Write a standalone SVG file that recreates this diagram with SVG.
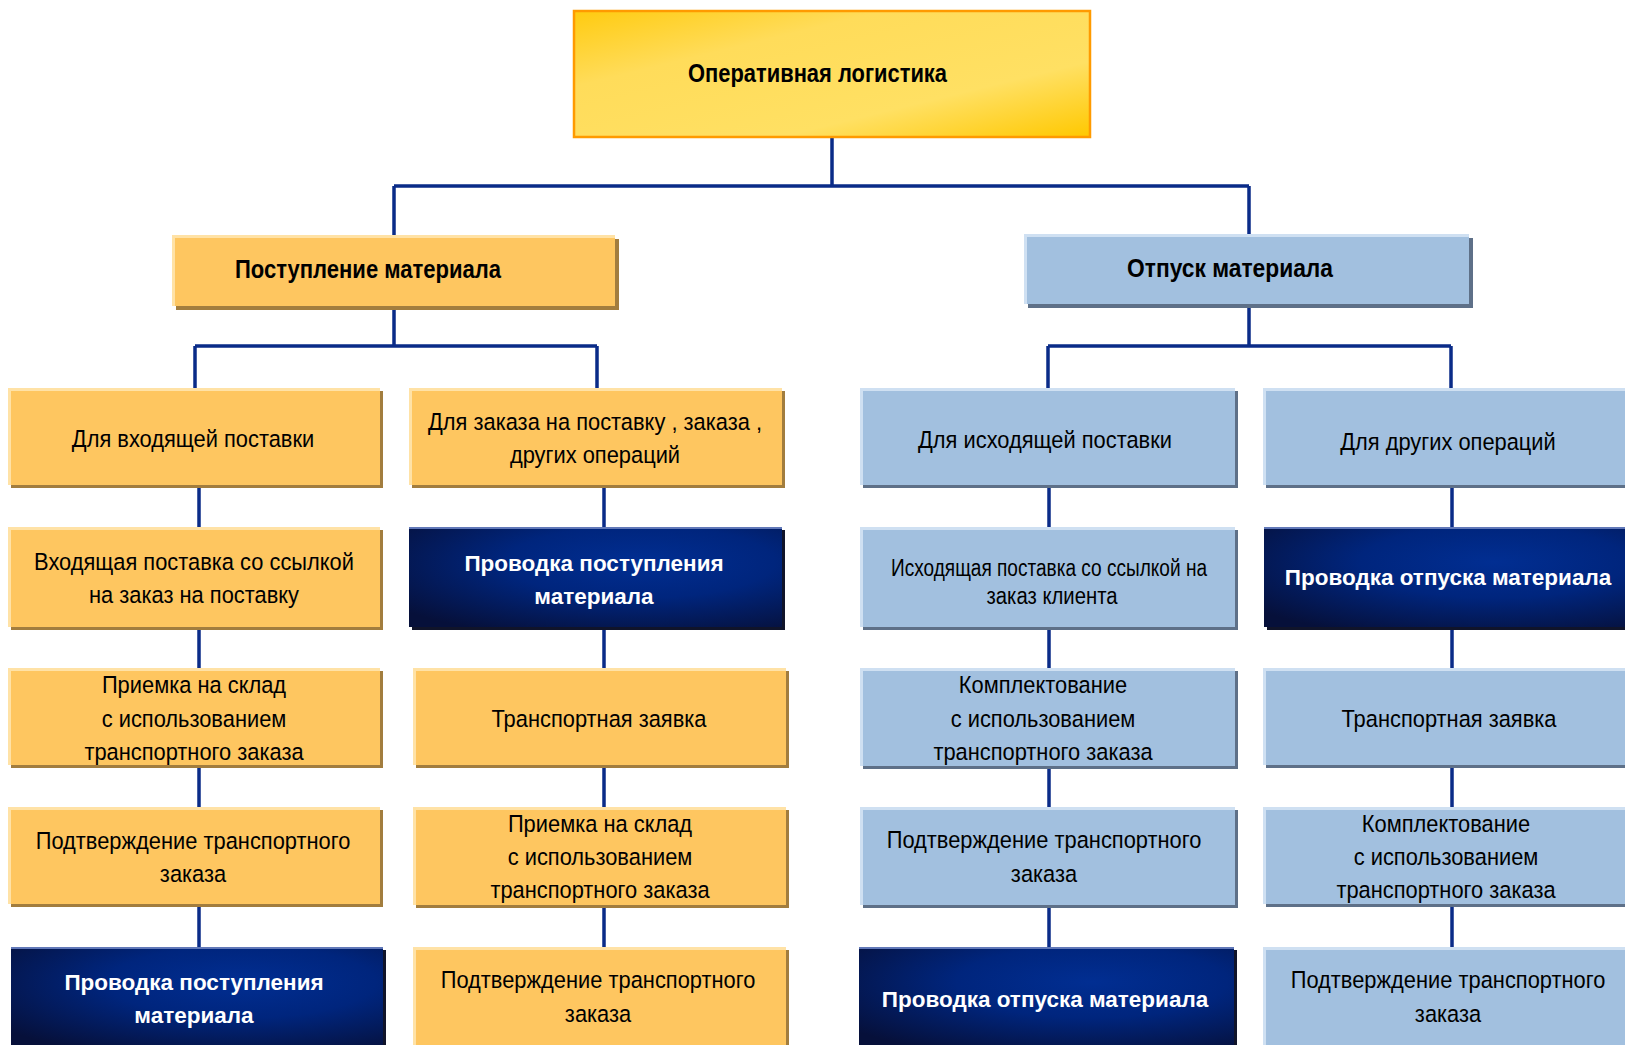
<svg xmlns="http://www.w3.org/2000/svg" width="1625" height="1045" viewBox="0 0 1625 1045">
<defs>
<linearGradient id="yg" x1="0" y1="0" x2="1" y2="1">
<stop offset="0" stop-color="#FFCB10"/>
<stop offset="0.3" stop-color="#FFDC5A"/>
<stop offset="0.7" stop-color="#FFE063"/>
<stop offset="1" stop-color="#FFC800"/>
</linearGradient>
<radialGradient id="dg" cx="0.62" cy="0.35" r="0.8">
<stop offset="0" stop-color="#012E92"/>
<stop offset="0.45" stop-color="#00257D"/>
<stop offset="1" stop-color="#06103A"/>
</radialGradient>
</defs>
<style>
.o{fill:#FEC660}
.os{fill:#A27D3E}
.oh{stroke:#FFE2A6;stroke-width:3}
.b{fill:#A2C0DF}
.bs{fill:#5E7088}
.bh{stroke:#CFE0F2;stroke-width:3}
.d{fill:url(#dg)}
.ds{fill:#10142A}
.dh{stroke:#6178B8;stroke-width:2}
.t{font-family:"Liberation Sans",Arial,sans-serif;font-size:23.5px;fill:#000;text-anchor:middle}
.tw{font-family:"Liberation Sans",Arial,sans-serif;font-size:22.5px;fill:#fff;font-weight:bold;text-anchor:middle}
.h{font-family:"Liberation Sans",Arial,sans-serif;font-size:25px;fill:#000;font-weight:bold}
.c{stroke:#0A2B88;stroke-width:3.5;fill:none}
</style>
<rect width="1625" height="1045" fill="#fff"/>

<g id="connectors">
<path class="c" d="M832 137V186M394 186H1249M394 186V235M1249 186V234"/>
<path class="c" d="M394 306V346M195 346H597M195 346V388M597 346V388"/>
<path class="c" d="M1249 304V346M1048 346H1451M1048 346V388M1451 346V388"/>
<path class="c" d="M199 485V527M199 627V668M199 765V807M199 904V947"/>
<path class="c" d="M604 485V527M604 627V668M604 765V807M604 905V947"/>
<path class="c" d="M1049 485V527M1049 627V668M1049 766V807M1049 905V947"/>
<path class="c" d="M1452 485V527M1452 627V668M1452 765V807M1452 904V947"/>
</g>

<g id="n-root">
<rect x="574" y="11" width="516" height="126" fill="url(#yg)" stroke="#FF9A00" stroke-width="2.5"/>
<text class="h" x="688" y="82" font-size="26" textLength="259" lengthAdjust="spacingAndGlyphs">Оперативная логистика</text>
</g>

<g id="n-receipt">
<rect class="os" x="176" y="239" width="443" height="71"/>
<rect class="o" x="172" y="235" width="443" height="71"/>
<path class="oh" d="M172 236.5H615M173.5 235V306"/>
<text class="h" x="235" y="278" textLength="266" lengthAdjust="spacingAndGlyphs">Поступление материала</text>
</g>

<g id="n-issue">
<rect class="bs" x="1028" y="238" width="445" height="70"/>
<rect class="b" x="1024" y="234" width="445" height="70"/>
<path class="bh" d="M1024 235.5H1469M1025.5 234V304"/>
<text class="h" x="1127" y="277" textLength="206" lengthAdjust="spacingAndGlyphs">Отпуск материала</text>
</g>

<!-- Column 1 -->
<g id="n-c1r1">
<rect class="os" x="11" y="391" width="372" height="97"/>
<rect class="o" x="8" y="388" width="372" height="97"/>
<path class="oh" d="M8 389.5H380M9.5 388V485"/>
<g transform="translate(193 0) scale(0.93 1)"><text class="t" x="0" y="447">Для входящей поставки</text></g>
</g>
<g id="n-c1r2">
<rect class="os" x="11" y="530" width="372" height="100"/>
<rect class="o" x="8" y="527" width="372" height="100"/>
<path class="oh" d="M8 528.5H380M9.5 527V627"/>
<g transform="translate(194 0) scale(0.93 1)">
<text class="t" x="0" y="570">Входящая поставка со ссылкой</text>
<text class="t" x="0" y="603">на заказ на поставку</text>
</g>
</g>
<g id="n-c1r3">
<rect class="os" x="11" y="671" width="372" height="97"/>
<rect class="o" x="8" y="668" width="372" height="97"/>
<path class="oh" d="M8 669.5H380M9.5 668V765"/>
<g transform="translate(194 0) scale(0.93 1)">
<text class="t" x="0" y="693">Приемка на склад</text>
<text class="t" x="0" y="727">с использованием</text>
<text class="t" x="0" y="760">транспортного заказа</text>
</g>
</g>
<g id="n-c1r4">
<rect class="os" x="11" y="810" width="372" height="97"/>
<rect class="o" x="8" y="807" width="372" height="97"/>
<path class="oh" d="M8 808.5H380M9.5 807V904"/>
<g transform="translate(193 0) scale(0.93 1)">
<text class="t" x="0" y="849">Подтверждение транспортного</text>
<text class="t" x="0" y="882">заказа</text>
</g>
</g>
<g id="n-c1r5">
<rect class="ds" x="14" y="950" width="372" height="100"/>
<rect class="d" x="11" y="947" width="372" height="100"/>
<path class="dh" d="M11 948H383"/>
<text class="tw" x="194" y="990">Проводка поступления</text>
<text class="tw" x="194" y="1023">материала</text>
</g>

<!-- Column 2 -->
<g id="n-c2r1">
<rect class="os" x="412" y="391" width="373" height="97"/>
<rect class="o" x="409" y="388" width="373" height="97"/>
<path class="oh" d="M409 389.5H782M410.5 388V485"/>
<g transform="translate(595 0) scale(0.93 1)">
<text class="t" x="0" y="430">Для заказа на поставку , заказа ,</text>
<text class="t" x="0" y="463">других операций</text>
</g>
</g>
<g id="n-c2r2">
<rect class="ds" x="412" y="530" width="373" height="100"/>
<rect class="d" x="409" y="527" width="373" height="100"/>
<path class="dh" d="M409 528H782"/>
<text class="tw" x="594" y="571">Проводка поступления</text>
<text class="tw" x="594" y="604">материала</text>
</g>
<g id="n-c2r3">
<rect class="os" x="416" y="671" width="373" height="97"/>
<rect class="o" x="413" y="668" width="373" height="97"/>
<path class="oh" d="M413 669.5H786M414.5 668V765"/>
<g transform="translate(599 0) scale(0.93 1)"><text class="t" x="0" y="727">Транспортная заявка</text></g>
</g>
<g id="n-c2r4">
<rect class="os" x="416" y="810" width="373" height="98"/>
<rect class="o" x="413" y="807" width="373" height="98"/>
<path class="oh" d="M413 808.5H786M414.5 807V905"/>
<g transform="translate(600 0) scale(0.93 1)">
<text class="t" x="0" y="832">Приемка на склад</text>
<text class="t" x="0" y="865">с использованием</text>
<text class="t" x="0" y="898">транспортного заказа</text>
</g>
</g>
<g id="n-c2r5">
<rect class="os" x="416" y="950" width="373" height="100"/>
<rect class="o" x="413" y="947" width="373" height="100"/>
<path class="oh" d="M413 948.5H786M414.5 947V1047"/>
<g transform="translate(598 0) scale(0.93 1)">
<text class="t" x="0" y="988">Подтверждение транспортного</text>
<text class="t" x="0" y="1022">заказа</text>
</g>
</g>

<!-- Column 3 -->
<g id="n-c3r1">
<rect class="bs" x="863" y="391" width="375" height="97"/>
<rect class="b" x="860" y="388" width="375" height="97"/>
<path class="bh" d="M860 389.5H1235M861.5 388V485"/>
<g transform="translate(1045 0) scale(0.93 1)"><text class="t" x="0" y="448">Для исходящей поставки</text></g>
</g>
<g id="n-c3r2">
<rect class="bs" x="863" y="530" width="375" height="100"/>
<rect class="b" x="860" y="527" width="375" height="100"/>
<path class="bh" d="M860 528.5H1235M861.5 527V627"/>
<text class="t" x="1049" y="576" font-size="22.5" textLength="316" lengthAdjust="spacingAndGlyphs">Исходящая поставка со ссылкой на</text>
<text class="t" x="1052" y="604" font-size="22.5" textLength="131" lengthAdjust="spacingAndGlyphs">заказ клиента</text>
</g>
<g id="n-c3r3">
<rect class="bs" x="863" y="671" width="375" height="98"/>
<rect class="b" x="860" y="668" width="375" height="98"/>
<path class="bh" d="M860 669.5H1235M861.5 668V766"/>
<g transform="translate(1043 0) scale(0.93 1)">
<text class="t" x="0" y="693">Комплектование</text>
<text class="t" x="0" y="727">с использованием</text>
<text class="t" x="0" y="760">транспортного заказа</text>
</g>
</g>
<g id="n-c3r4">
<rect class="bs" x="863" y="810" width="375" height="98"/>
<rect class="b" x="860" y="807" width="375" height="98"/>
<path class="bh" d="M860 808.5H1235M861.5 807V905"/>
<g transform="translate(1044 0) scale(0.93 1)">
<text class="t" x="0" y="848">Подтверждение транспортного</text>
<text class="t" x="0" y="882">заказа</text>
</g>
</g>
<g id="n-c3r5">
<rect class="ds" x="862" y="950" width="375" height="100"/>
<rect class="d" x="859" y="947" width="375" height="100"/>
<path class="dh" d="M859 948H1234"/>
<text class="tw" x="1045" y="1007">Проводка отпуска материала</text>
</g>

<!-- Column 4 -->
<g id="n-c4r1">
<rect class="bs" x="1266" y="391" width="370" height="97"/>
<rect class="b" x="1263" y="388" width="370" height="97"/>
<path class="bh" d="M1263 389.5H1633M1264.5 388V485"/>
<g transform="translate(1448 0) scale(0.93 1)"><text class="t" x="0" y="450">Для других операций</text></g>
</g>
<g id="n-c4r2">
<rect class="ds" x="1267" y="530" width="370" height="100"/>
<rect class="d" x="1264" y="527" width="370" height="100"/>
<path class="dh" d="M1264 528H1634"/>
<text class="tw" x="1448" y="585">Проводка отпуска материала</text>
</g>
<g id="n-c4r3">
<rect class="bs" x="1266" y="671" width="370" height="97"/>
<rect class="b" x="1263" y="668" width="370" height="97"/>
<path class="bh" d="M1263 669.5H1633M1264.5 668V765"/>
<g transform="translate(1449 0) scale(0.93 1)"><text class="t" x="0" y="727">Транспортная заявка</text></g>
</g>
<g id="n-c4r4">
<rect class="bs" x="1266" y="810" width="370" height="97"/>
<rect class="b" x="1263" y="807" width="370" height="97"/>
<path class="bh" d="M1263 808.5H1633M1264.5 807V904"/>
<g transform="translate(1446 0) scale(0.93 1)">
<text class="t" x="0" y="832">Комплектование</text>
<text class="t" x="0" y="865">с использованием</text>
<text class="t" x="0" y="898">транспортного заказа</text>
</g>
</g>
<g id="n-c4r5">
<rect class="bs" x="1266" y="950" width="370" height="100"/>
<rect class="b" x="1263" y="947" width="370" height="100"/>
<path class="bh" d="M1263 948.5H1633M1264.5 947V1047"/>
<g transform="translate(1448 0) scale(0.93 1)">
<text class="t" x="0" y="988">Подтверждение транспортного</text>
<text class="t" x="0" y="1022">заказа</text>
</g>
</g>
</svg>
